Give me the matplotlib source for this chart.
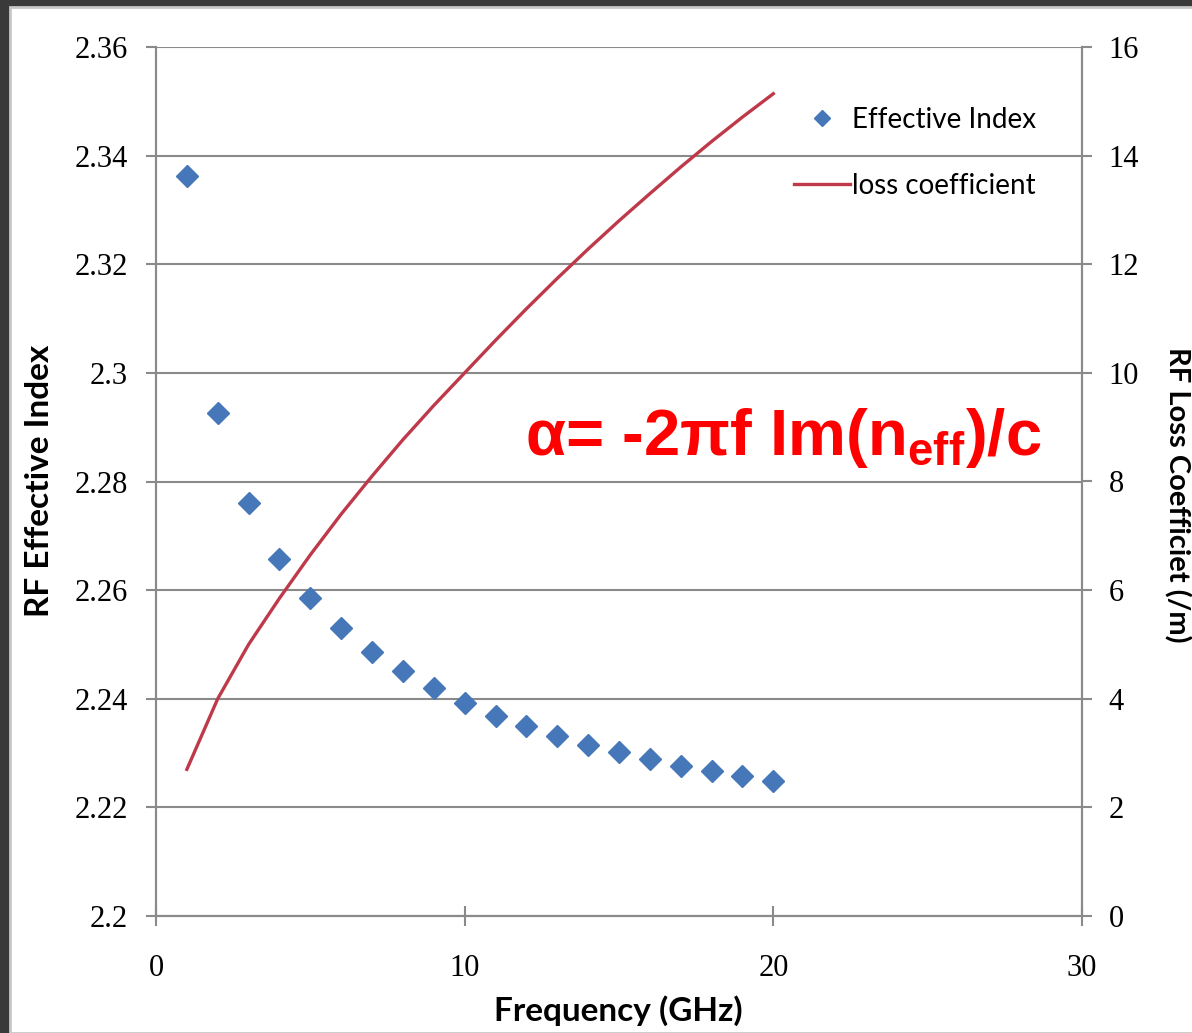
import matplotlib
matplotlib.use("Agg")
import matplotlib.pyplot as plt
from matplotlib.patches import Rectangle

# frequency points (GHz)
freq = [1, 2, 3, 4, 5, 6, 7, 8, 9, 10, 11, 12, 13, 14, 15, 16, 17, 18, 19, 20]

# RF effective index (left axis)
neff = [2.3362, 2.2926, 2.2760, 2.2657, 2.2585, 2.2530, 2.2486, 2.2451, 2.2420, 2.2392,
        2.2368, 2.2350, 2.2331, 2.2315, 2.2302, 2.2289, 2.2276, 2.2267, 2.2258, 2.2249]

# loss coefficient (/m), right axis
loss = [2.7, 4.0, 5.0, 5.85, 6.65, 7.4, 8.1, 8.77, 9.4, 10.0,
        10.6, 11.18, 11.74, 12.28, 12.8, 13.3, 13.79, 14.26, 14.71, 15.14]

left_ticks = [2.2, 2.22, 2.24, 2.26, 2.28, 2.3, 2.32, 2.34, 2.36]
left_labels = ["2.2", "2.22", "2.24", "2.26", "2.28", "2.3", "2.32", "2.34", "2.36"]
right_ticks = [0, 2, 4, 6, 8, 10, 12, 14, 16]
x_ticks = [0, 10, 20, 30]

W, H = 1192, 1033
fig = plt.figure(figsize=(W / 100, H / 100), dpi=100)
fig.patch.set_facecolor("#3a3a3a")

# white slide area with a thin light edge
fig.patches.append(Rectangle((10 / W, 0), 1, 1 - 7 / H, transform=fig.transFigure,
                             facecolor="white", edgecolor="#c8c8c8", linewidth=2, zorder=-10))

ax = fig.add_axes([156 / W, 1 - 916 / H, (1082 - 156) / W, (916 - 47) / H])
ax.set_facecolor("none")
ax2 = ax.twinx()

grid_c = "#8a8a8a"
tick_font = {"family": "Liberation Serif", "size": 22}

ax.set_xlim(0, 30)
ax.set_ylim(2.2, 2.36)
ax2.set_ylim(0, 16)

ax.set_yticks(left_ticks)
ax.set_yticklabels(left_labels, fontdict=tick_font)
ax.set_xticks(x_ticks)
ax.set_xticklabels([str(t) for t in x_ticks], fontdict=tick_font)
ax2.set_yticks(right_ticks)
ax2.set_yticklabels([str(t) for t in right_ticks], fontdict=tick_font)

for a in (ax, ax2):
    for s in a.spines.values():
        s.set_color(grid_c)
        s.set_linewidth(1.5)
    a.spines["top"].set_visible(False)

ax.yaxis.grid(True, color=grid_c, linewidth=1.5)
ax.set_axisbelow(True)
ax.tick_params(axis="y", direction="out", length=7, width=1.5, color=grid_c, pad=13)
ax.tick_params(axis="x", direction="inout", length=14, width=1.5, color=grid_c, pad=20)
ax2.tick_params(axis="y", direction="out", length=7, width=1.5, color=grid_c, pad=12)

pts, = ax.plot(freq, neff, linestyle="none", marker="D", markersize=11,
               color="#4677b8", markeredgecolor="#4677b8", label="Effective Index", zorder=3)
ln, = ax2.plot(freq, loss, color="#be3a4a", linewidth=2.4, label="loss coefficient", zorder=3)

leg = ax2.legend(handles=[pts, ln], loc="upper left", bbox_to_anchor=(0.662, 0.96),
                 frameon=False, handlelength=2.0, handletextpad=0.1, labelspacing=1.45,
                 prop={"family": "Lato", "size": 20}, markerscale=0.7)

fig.text(40 / W, 1 - 481 / H, "RF Effective Index", rotation=90, ha="center", va="center",
         family="Lato", weight="bold", fontsize=24)
fig.text(1177 / W, 1 - 495 / H, "RF Loss Coefficiet (/m)", rotation=270, ha="center", va="center",
         family="Lato", weight="bold", fontsize=21)
fig.text(618 / W, 1 - 1011 / H, "Frequency (GHz)", ha="center", va="center",
         family="Lato", weight="bold", fontsize=24)

ax.text(0.3985, 0.5305, r"α= -2πf Im(n$_{\mathregular{eff}}$)/c", transform=ax.transAxes,
        color="#ff0000", family="Liberation Sans", weight="bold", fontsize=47,
        ha="left", va="baseline")

fig.savefig("out.png", dpi=100, facecolor=fig.get_facecolor())
